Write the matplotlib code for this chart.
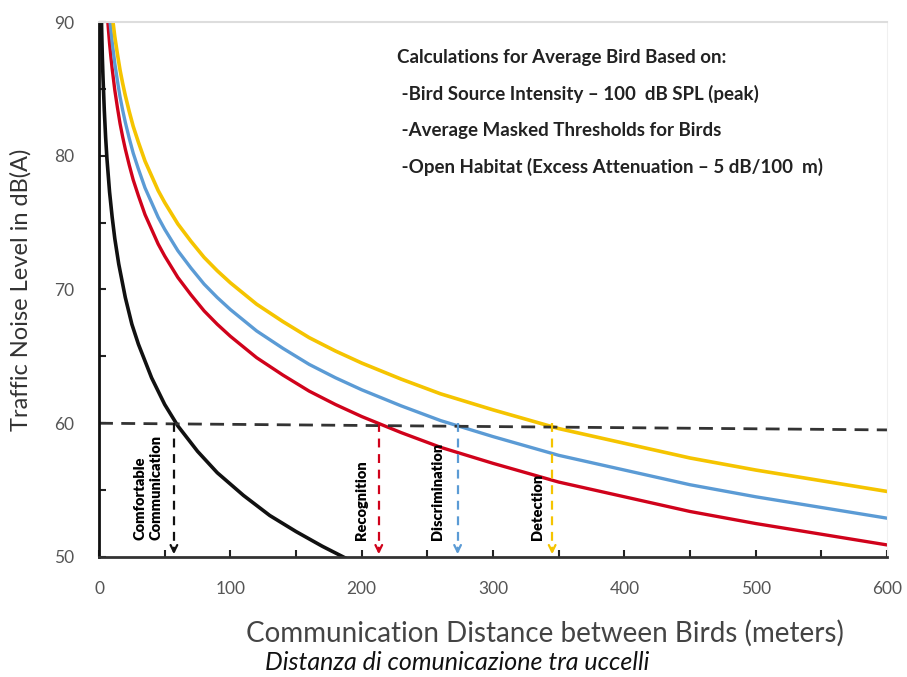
import matplotlib.pyplot as plt

# distances in meters, noise levels in dB(A)
dist_comfort = [1.5, 2, 2.5, 3, 4, 5, 6, 8, 10, 12, 15, 20, 25, 30, 40, 50, 60, 75, 90, 110, 130, 150, 170, 190]
db_comfort = [91.9, 89.4, 87.4, 85.9, 83.4, 81.4, 79.8, 77.3, 75.4, 73.8, 71.9, 69.4, 67.4, 65.9, 63.4, 61.4,
              59.8, 57.9, 56.3, 54.6, 53.1, 51.9, 50.8, 49.8]

dist = [6, 7, 8, 9, 10, 11, 12, 14, 16, 18, 20, 23, 26, 30, 35, 40, 45, 50, 60, 70, 80, 90, 100,
        120, 140, 160, 180, 200, 230, 260, 300, 350, 400, 450, 500, 550, 600]
db_recognition = [90.9, 89.6, 88.4, 87.4, 86.5, 85.7, 84.9, 83.6, 82.4, 81.4, 80.5, 79.3, 78.2, 77.0, 75.6,
                  74.5, 73.4, 72.5, 70.9, 69.6, 68.4, 67.4, 66.5, 64.9, 63.6, 62.4, 61.4, 60.5, 59.3, 58.2,
                  57.0, 55.6, 54.5, 53.4, 52.5, 51.7, 50.9]
db_discrimination = [92.9, 91.6, 90.4, 89.4, 88.5, 87.7, 86.9, 85.6, 84.4, 83.4, 82.5, 81.3, 80.2, 79.0, 77.6,
                     76.5, 75.4, 74.5, 72.9, 71.6, 70.4, 69.4, 68.5, 66.9, 65.6, 64.4, 63.4, 62.5, 61.3, 60.2,
                     59.0, 57.6, 56.5, 55.4, 54.5, 53.7, 52.9]
db_detection = [94.9, 93.6, 92.4, 91.4, 90.5, 89.7, 88.9, 87.6, 86.4, 85.4, 84.5, 83.3, 82.2, 81.0, 79.6,
                78.5, 77.4, 76.5, 74.9, 73.6, 72.4, 71.4, 70.5, 68.9, 67.6, 66.4, 65.4, 64.5, 63.3, 62.2,
                61.0, 59.6, 58.5, 57.4, 56.5, 55.7, 54.9]

# where each curve meets the 60 dB line
marker_names = ["Comfortable\nCommunication", "Recognition", "Discrimination", "Detection"]
marker_dist = [57, 213, 273, 345]
label_dist = [37, 200, 258, 334]

notes = ["Calculations for Average Bird Based on:",
         " -Bird Source Intensity \u2013 100  dB SPL (peak)",
         " -Average Masked Thresholds for Birds",
         " -Open Habitat (Excess Attenuation \u2013 5 dB/100  m)"]

BLACK = "#111111"
RED = "#d0021b"
BLUE = "#5b9bd5"
YELLOW = "#f5c400"
colors = [BLACK, RED, BLUE, YELLOW]

plt.rcParams["font.family"] = ["Lato", "DejaVu Sans"]

fig = plt.figure(figsize=(9.07, 6.77), dpi=100)
ax = fig.add_axes([0.1092, 0.1773, 0.8688, 0.7902])

ax.plot(dist_comfort, db_comfort, color=BLACK, lw=2.6)
ax.plot(dist, db_recognition, color=RED, lw=2.4)
ax.plot(dist, db_discrimination, color=BLUE, lw=2.4)
ax.plot(dist, db_detection, color=YELLOW, lw=2.6)

# 60 dB reference line
ax.plot([0, 600], [60, 59.5], color="#333333", lw=2, ls=(0, (5, 3)))

for name, x, lx, c in zip(marker_names, marker_dist, label_dist, colors):
    ax.plot([x, x], [60, 50.4], color=c, lw=1.6, ls=(0, (4, 3)))
    ax.annotate("", xy=(x, 50), xytext=(x, 50.9),
                arrowprops=dict(arrowstyle="->", color=c, lw=1.6, mutation_scale=12))
    ax.text(lx, 51.3, name, rotation=90, ha="center", va="bottom", multialignment="left",
            fontsize=10.5, fontweight="heavy", color="#000000", linespacing=1.25)

ax.set_xlim(0, 600)
ax.set_ylim(50, 90)
ax.set_xticks([0, 100, 200, 300, 400, 500, 600])
ax.set_xticks(range(0, 601, 50), minor=True)
ax.set_yticks([50, 60, 70, 80, 90])
ax.set_yticks(range(50, 91, 5), minor=True)
ax.tick_params(which="both", direction="in", colors="#222222", width=1.5)
ax.tick_params(which="major", length=5, labelsize=12.5, labelcolor="#555555")
ax.tick_params(which="minor", length=5)
ax.tick_params(axis="x", pad=17)
ax.tick_params(axis="y", pad=18)

ax.spines["left"].set_linewidth(2)
ax.spines["left"].set_color("#111111")
ax.spines["bottom"].set_linewidth(2)
ax.spines["bottom"].set_color("#333333")
ax.spines["top"].set_color("#dddddd")
ax.spines["top"].set_linewidth(1.5)
ax.spines["right"].set_color("#f0f0f0")

ax.set_ylabel("Traffic Noise Level in dB(A)", fontsize=17, color="#333333", labelpad=16)
fig.text(0.601, 0.065, "Communication Distance between Birds (meters)", fontsize=20,
         color="#444444", ha="center", va="center")

for i, line in enumerate(notes):
    ax.text(0.378, 0.933 - i * 0.068, line, transform=ax.transAxes, fontsize=13.5,
            fontweight="bold", color="#222222", va="center", ha="left")

fig.text(0.504, 0.022, "Distanza di comunicazione tra uccelli", fontsize=18, style="italic",
         color="#111111", ha="center", va="center")

fig.savefig("out.png", dpi=100)
